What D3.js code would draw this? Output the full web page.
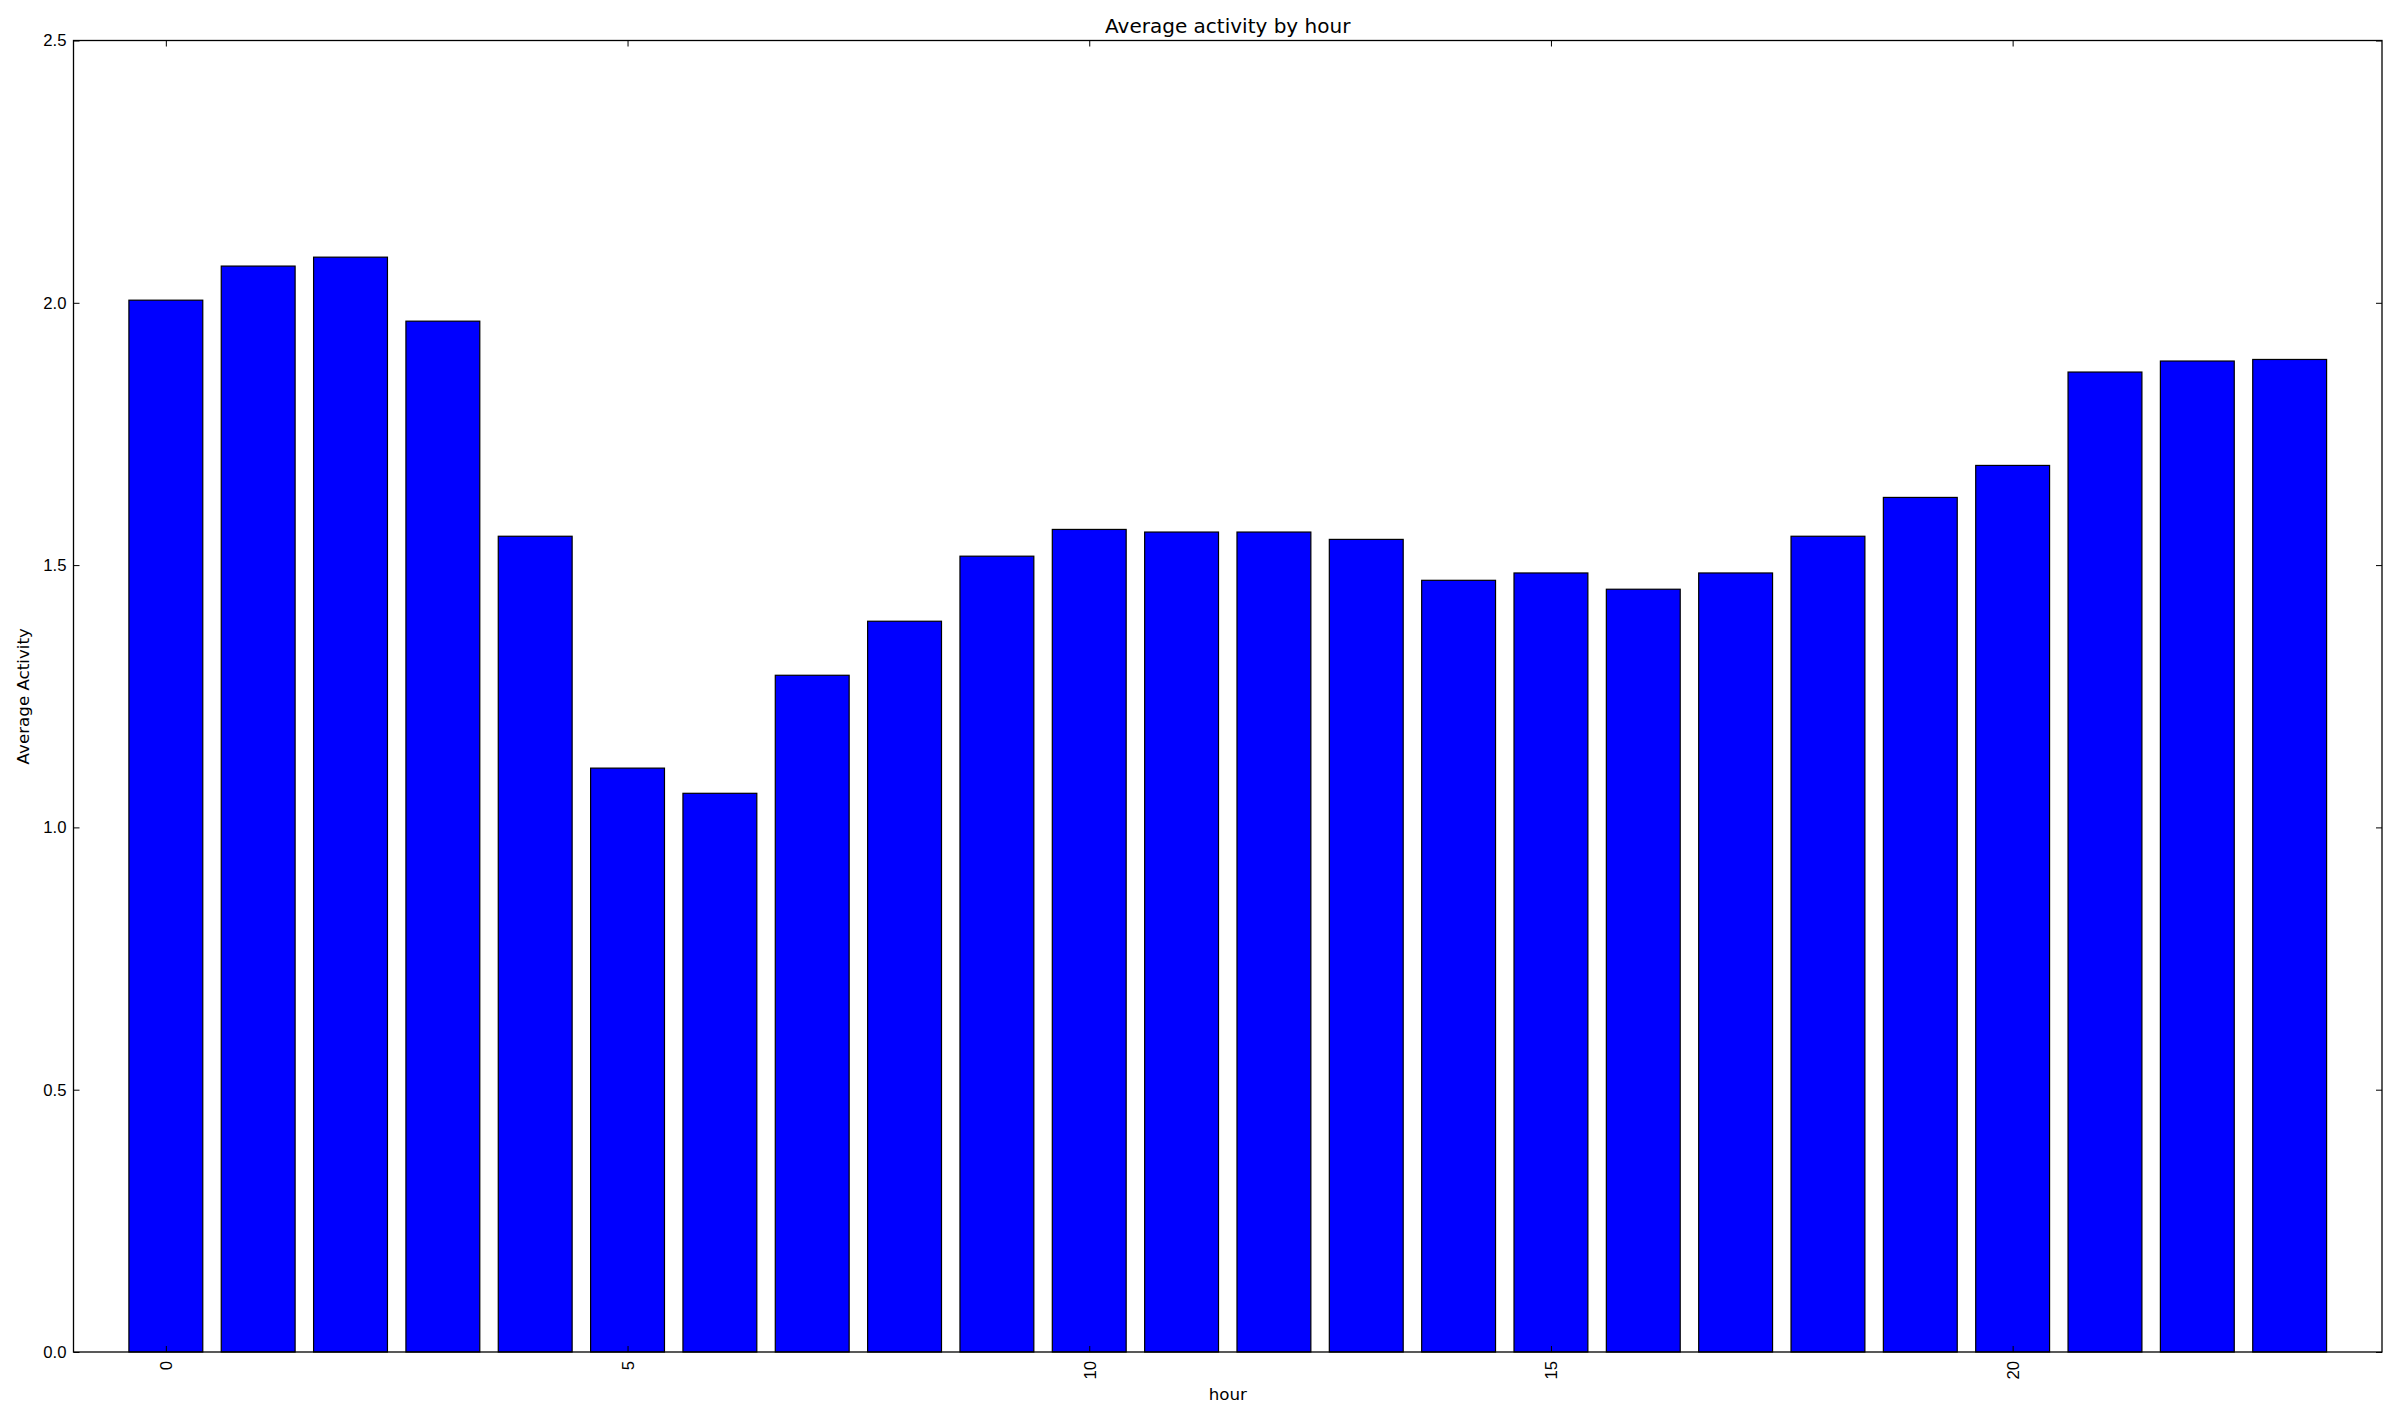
<!DOCTYPE html>
<html>
<head>
<meta charset="utf-8">
<script src="https://cdn.jsdelivr.net/npm/d3@7"></script>
<style>
  body { margin: 0; background: #fff; }
  svg { display: block; font-family: "DejaVu Sans", sans-serif; }
  .tick text { font-size: 16.7px; fill: #000; }
  .tick line { stroke: #000; stroke-width: 1; }
</style>
</head>
<body>
<svg id="chart"></svg>
<script>
'use strict';

var hours = d3.range(24);
var activity = [
  2.005, 2.070, 2.087, 1.965, 1.555, 1.113, 1.065, 1.290,
  1.393, 1.517, 1.568, 1.563, 1.563, 1.549, 1.471, 1.485,
  1.454, 1.485, 1.555, 1.629, 1.690, 1.868, 1.889, 1.892
];
var xTicks = [0, 5, 10, 15, 20];
var yTicks = [0, 0.5, 1.0, 1.5, 2.0, 2.5];

var width = 2400, height = 1420;
var margin = {top: 40.5, right: 18, bottom: 68, left: 73.5};
var innerW = width - margin.left - margin.right;
var innerH = height - margin.top - margin.bottom;

var svg = d3.select('#chart')
  .attr('width', width)
  .attr('height', height);

var g = svg.append('g')
  .attr('transform', 'translate(' + margin.left + ',' + margin.top + ')');

var x = d3.scaleLinear().domain([-1, 24]).range([0, innerW]);
var y = d3.scaleLinear().domain([0, 2.5]).range([innerH, 0]);

// bars, width 0.8 centred on each hour
g.selectAll('rect.bar')
  .data(hours)
  .enter()
  .append('rect')
  .classed('bar', true)
  .attr('x', function (d) { return x(d - 0.4); })
  .attr('width', function () { return x(0.4) - x(-0.4); })
  .attr('y', function (d, i) { return y(activity[i]); })
  .attr('height', function (d, i) { return y(0) - y(activity[i]); })
  .style('fill', '#0000ff')
  .style('stroke', '#000')
  .style('stroke-width', 1.2);

// axes, ticks pointing inward
var yAxis = d3.axisLeft(y).tickValues(yTicks).tickFormat(d3.format('.1f'))
  .tickSize(-6).tickPadding(7);
var yAxisR = d3.axisRight(y).tickValues(yTicks).tickFormat('').tickSize(-6);
var xAxis = d3.axisBottom(x).tickValues(xTicks).tickFormat(d3.format('d'))
  .tickSize(-6);
var xAxisT = d3.axisTop(x).tickValues(xTicks).tickFormat('').tickSize(-6);

g.append('g').call(yAxis);
g.append('g').attr('transform', 'translate(' + innerW + ',0)').call(yAxisR);
g.append('g').attr('transform', 'translate(0,' + innerH + ')').call(xAxis)
  .selectAll('text')
  .attr('transform', 'rotate(-90)')
  .attr('x', -9)
  .attr('y', 0)
  .attr('dy', '0.35em')
  .style('text-anchor', 'end');
g.append('g').call(xAxisT);

g.selectAll('.domain').remove();

// frame
g.append('rect')
  .attr('width', innerW)
  .attr('height', innerH)
  .style('fill', 'none')
  .style('stroke', '#000')
  .style('stroke-width', 1.3);

// title and labels
svg.append('text')
  .attr('x', margin.left + innerW / 2)
  .attr('y', 33)
  .style('text-anchor', 'middle')
  .style('font-size', '20px')
  .text('Average activity by hour');

svg.append('text')
  .attr('x', margin.left + innerW / 2)
  .attr('y', 1400)
  .style('text-anchor', 'middle')
  .style('font-size', '16.7px')
  .text('hour');

svg.append('text')
  .attr('transform', 'translate(29,' + (margin.top + innerH / 2) + ') rotate(-90)')
  .style('text-anchor', 'middle')
  .style('font-size', '16.7px')
  .text('Average Activity');
</script>
</body>
</html>
